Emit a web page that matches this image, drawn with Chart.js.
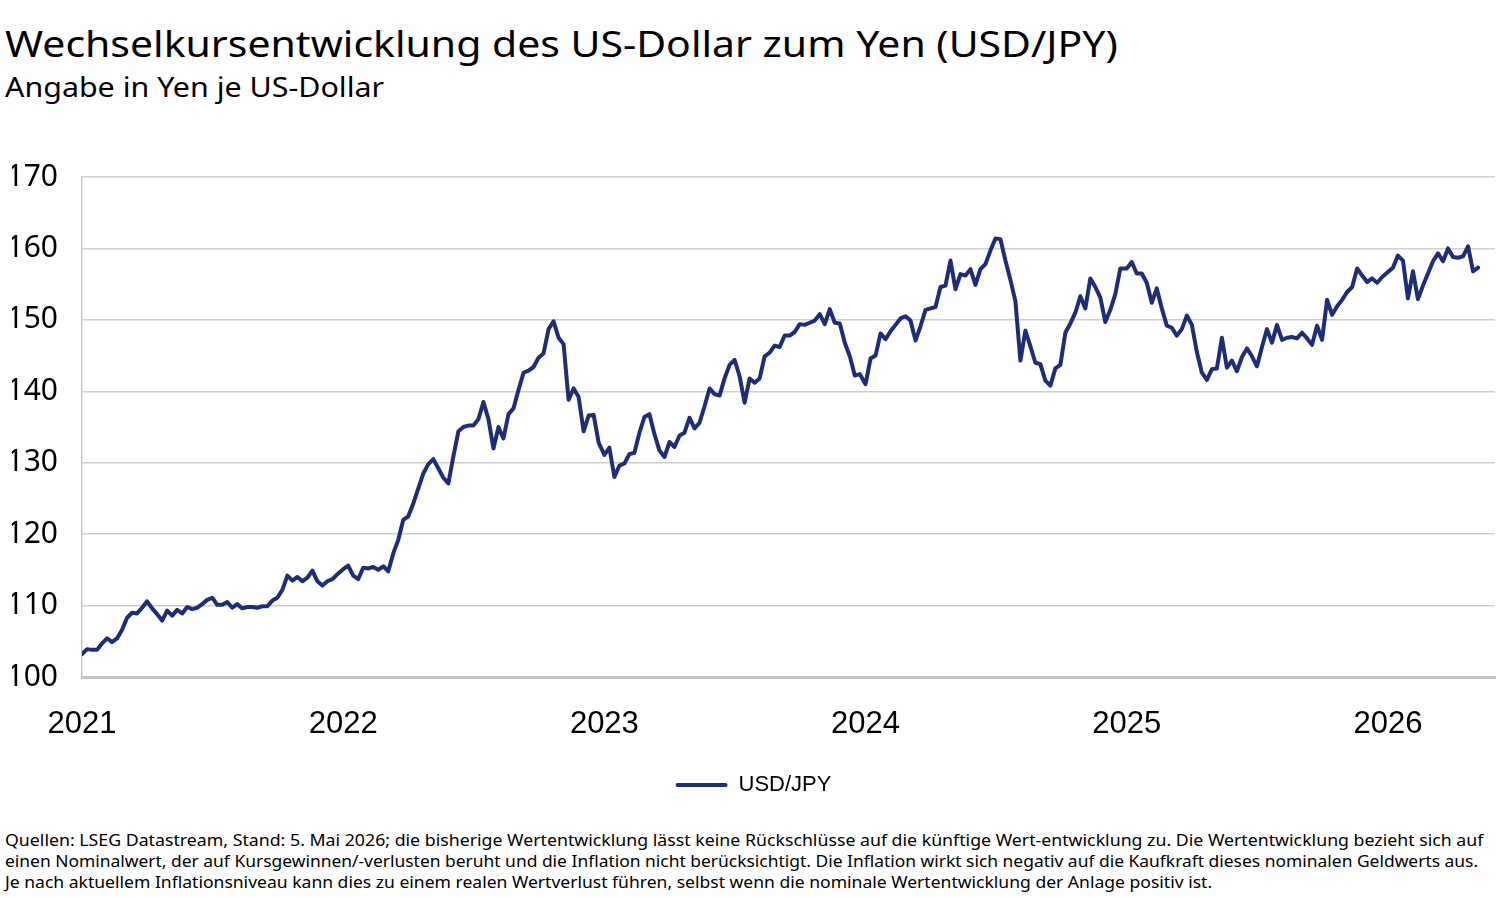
<!DOCTYPE html>
<html lang="de">
<head>
<meta charset="utf-8">
<title>USD/JPY</title>
<script src="https://cdn.jsdelivr.net/npm/chart.js@4.4.1/dist/chart.umd.min.js"></script>
<style>
  html, body { margin: 0; padding: 0; background: #fff; }
  body { width: 1500px; height: 898px; position: relative; overflow: hidden; font-family: "Noto Sans", sans-serif; color: #000; }
  .txt { position: absolute; left: 5px; white-space: nowrap; transform-origin: left top; }
  #title { top: 26px; font-size: 36px; line-height: 36px; }
  #subtitle { top: 73px; font-size: 27.5px; line-height: 27.5px; }
  #footer { top: 829px; font-size: 17px; line-height: 21px; }
  #footer div { display: inline-block; transform-origin: left top; }
  #chartBox { position: absolute; left: 0; top: 130px; width: 1500px; height: 680px; }
</style>
</head>
<body>
<div id="title" class="txt">Wechselkursentwicklung des US-Dollar zum Yen (USD/JPY)</div>
<div id="subtitle" class="txt">Angabe in Yen je US-Dollar</div>
<div id="chartBox"><canvas id="fxChart"></canvas></div>
<div id="footer" class="txt">
  <div id="foot1">Quellen: LSEG Datastream, Stand: 5. Mai 2026; die bisherige Wertentwicklung lässt keine Rückschlüsse auf die künftige Wert-entwicklung zu. Die Wertentwicklung bezieht sich auf</div><br>
  <div id="foot2">einen Nominalwert, der auf Kursgewinnen/-verlusten beruht und die Inflation nicht berücksichtigt. Die Inflation wirkt sich negativ auf die Kaufkraft dieses nominalen Geldwerts aus.</div><br>
  <div id="foot3">Je nach aktuellem Inflationsniveau kann dies zu einem realen Wertverlust führen, selbst wenn die nominale Wertentwicklung der Anlage positiv ist.</div>
</div>

<script>
// weekly USD/JPY values (yen per dollar), one array per year, first value = first week of January
const usdJpy2021 = [
  103.2, 103.9, 103.8, 103.8, 104.7, 105.4, 104.9, 105.4, 106.6, 108.3,
  109.0, 108.9, 109.7, 110.6, 109.6, 108.8, 107.9, 109.3, 108.6, 109.4,
  108.9, 109.8, 109.5, 109.7, 110.2, 110.8, 111.1, 110.1, 110.1, 110.5,
  109.7, 110.2, 109.6, 109.8, 109.8, 109.7, 109.9, 109.9, 110.7, 111.1,
  112.2, 114.2, 113.5, 114.0, 113.4, 113.9, 114.9, 113.4, 112.8, 113.4,
  113.7, 114.4
];
const usdJpy2022 = [
  115.1, 115.6, 114.2, 113.7, 115.3, 115.2, 115.4, 115.0, 115.5, 114.8,
  117.3, 119.2, 122.0, 122.5, 124.3, 126.4, 128.5, 129.8, 130.5, 129.2,
  127.9, 127.1, 130.9, 134.4, 135.0, 135.2, 135.2, 136.1, 138.5, 136.1,
  132.0, 135.0, 133.4, 136.8, 137.6, 140.2, 142.6, 142.9, 143.4, 144.7,
  145.3, 148.7, 149.8, 147.5, 146.6, 138.8, 140.4, 139.2, 134.4, 136.6,
  136.7, 132.8
];
const usdJpy2023 = [
  131.1, 132.1, 128.0, 129.6, 129.9, 131.2, 131.4, 134.2, 136.4, 136.8,
  134.0, 131.7, 130.8, 132.9, 132.2, 133.8, 134.2, 136.3, 134.8, 135.6,
  137.9, 140.4, 139.6, 139.4, 141.8, 143.7, 144.4, 142.1, 138.4, 141.8,
  141.2, 141.8, 144.9, 145.4, 146.4, 146.2, 147.8, 147.8, 148.3, 149.4,
  149.3, 149.6, 149.9, 150.8, 149.4, 151.5, 149.6, 149.5, 146.8, 144.9,
  142.2, 142.4
];
const usdJpy2024 = [
  141.0, 144.6, 145.0, 148.1, 147.3, 148.4, 149.3, 150.2, 150.5, 149.9,
  147.1, 149.1, 151.4, 151.6, 151.8, 154.6, 154.8, 158.3, 154.3, 156.4,
  156.2, 157.1, 154.9, 157.1, 157.8, 159.7, 161.4, 161.3, 158.3, 155.6,
  152.6, 144.3, 148.5, 146.3, 144.0, 143.8, 141.5, 140.8, 143.2, 143.7,
  148.2, 149.5, 151.0, 153.3, 151.6, 155.8, 154.6, 153.1, 149.7, 151.4,
  153.6, 157.2
];
const usdJpy2025 = [
  157.2, 158.1, 156.5, 156.5, 155.2, 152.4, 154.4, 151.6, 149.2, 148.9,
  147.8, 148.7, 150.6, 149.3, 145.5, 142.6, 141.6, 143.1, 143.2, 147.5,
  143.3, 144.3, 142.8, 144.8, 146.0, 144.9, 143.5, 146.2, 148.7, 146.8,
  149.3, 147.2, 147.5, 147.6, 147.4, 148.2, 147.4, 146.5, 149.2, 147.2,
  152.8, 150.7, 151.9, 152.8, 153.9, 154.6, 157.2, 156.2, 155.3, 155.8,
  155.2, 156.0
];
const usdJpy2026 = [
  156.7, 157.3, 159.0, 158.3, 153.0, 156.8, 152.9, 154.8, 156.5, 158.2,
  159.3, 158.2, 160.0, 158.8, 158.7, 158.9, 160.3, 156.8, 157.3
];

const seriesYears = [2021, 2022, 2023, 2024, 2025, 2026];
const seriesByYear = [usdJpy2021, usdJpy2022, usdJpy2023, usdJpy2024, usdJpy2025, usdJpy2026];
const yearTicks = [2021, 2022, 2023, 2024, 2025, 2026];
const xEnd = 2026.41;            // axis runs a little past the last value (end of May 2026)
const yMin = 100, yMax = 170, yGridStep = 5, yLabelStep = 10;
const seriesLabel = "USD/JPY";

const lineColor = "#1f2c78";

function daysInYear(y) {
    return (y % 4 === 0) ? 366 : 365;
}

// turn the weekly arrays into {x: fractional year, y: value} points
const points = [];
seriesByYear.forEach((values, k) => {
    const yr = seriesYears[k];
    values.forEach((v, i) => {
        points.push({ x: yr + (i * 7) / daysInYear(yr), y: v });
    });
});

// squeeze the text lines to the width of the original (narrower) typeface
function fitText(id, targetWidth) {
    const el = document.getElementById(id);
    const w = el.scrollWidth;
    if (w > 0) el.style.transform = `scaleX(${targetWidth / w})`;
}
fitText("title", 1113);
fitText("subtitle", 379);
fitText("foot1", 1478);
fitText("foot2", 1473);
fitText("foot3", 1207);

const ctx = document.getElementById("fxChart").getContext("2d");
new Chart(ctx, {
    type: "line",
    data: {
        datasets: [{
            label: seriesLabel,
            data: points,
            borderColor: lineColor,
            backgroundColor: lineColor,
            borderWidth: 4,
            borderJoinStyle: "round",
            borderCapStyle: "round",
            pointRadius: 0,
            tension: 0,
            fill: false
        }]
    },
    options: {
        responsive: true,
        maintainAspectRatio: false,
        animation: false,
        layout: { padding: { top: 47, right: 5, left: 12, bottom: 4 } },
        plugins: {
            title: { display: false },
            tooltip: { enabled: false },
            legend: {
                position: "bottom",
                labels: {
                    boxWidth: 52,
                    boxHeight: 4,
                    padding: 10,
                    color: "#000",
                    font: { family: "'Liberation Sans', Arial, sans-serif", size: 22 },
                    generateLabels: (chart) => Chart.defaults.plugins.legend.labels.generateLabels(chart)
                        .map(l => ({ ...l, lineWidth: 0, fillStyle: lineColor, borderRadius: 2 }))
                }
            }
        },
        scales: {
            x: {
                type: "linear",
                min: seriesYears[0],
                max: xEnd,
                afterBuildTicks: (s) => { s.ticks = yearTicks.map(v => ({ value: v })); },
                afterFit: (s) => { s.height = 87; s.paddingLeft = 0; s.paddingRight = 0; },
                grid: { display: true, drawOnChartArea: false, drawTicks: false },
                border: { display: true, color: "#c4c4c4", width: 3 },
                ticks: {
                    padding: 29,
                    maxRotation: 0,
                    autoSkip: false,
                    color: "#000",
                    font: { family: "'Liberation Sans', Arial, sans-serif", size: 31 },
                    callback: (v) => String(v)
                }
            },
            y: {
                min: yMin,
                max: yMax,
                afterFit: (s) => { s.width = 70; s.paddingTop = 0; s.paddingBottom = 0; },
                grid: { color: "#cfcfcf", lineWidth: 1.5, drawTicks: false },
                border: { display: true, color: "#c8c8c8", width: 1.5 },
                ticks: {
                    stepSize: yGridStep,
                    padding: 24,
                    color: "#000",
                    font: { family: "'Noto Sans', sans-serif", size: 30 },
                    callback: (v) => (v % yLabelStep === 0 ? String(v) : "")
                }
            }
        }
    }
});
</script>
</body>
</html>
